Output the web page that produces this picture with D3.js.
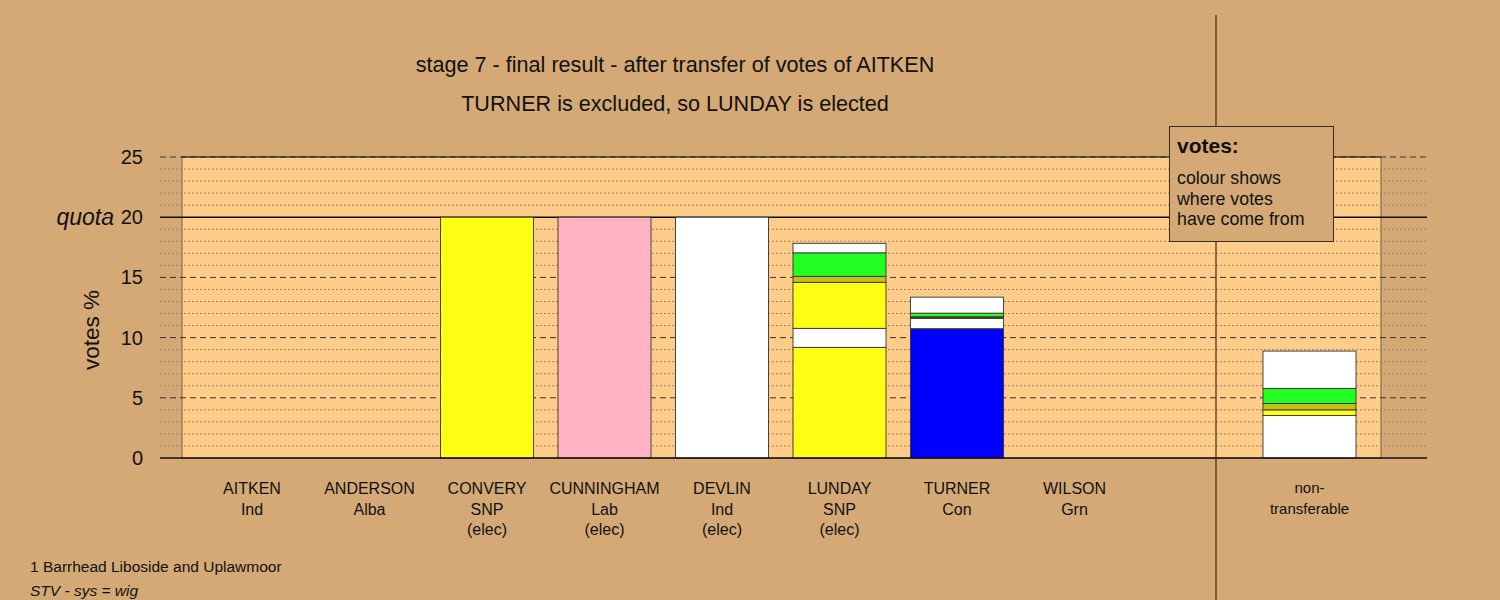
<!DOCTYPE html>
<html><head><meta charset="utf-8">
<script src="https://cdn.jsdelivr.net/npm/d3@7"></script>
<style>body{margin:0;background:#d4a976}svg{display:block}text{font-family:"Liberation Sans",Arial,sans-serif;fill:#111}</style>
</head><body><svg id="c" width="1500" height="600"></svg>
<script>
const candidates = ["AITKEN","ANDERSON","CONVERY","CUNNINGHAM","DEVLIN","LUNDAY","TURNER","WILSON","","non-transferable"];
const parties    = ["Ind","Alba","SNP","Lab","Ind","SNP","Con","Grn","",""];
const statuses   = ["","","(elec)","(elec)","(elec)","(elec)","","","",""];
const ownColours = ["#ffffff","#c4c01a","#ffff14","#ffb3c3","#ffffff","#ffff14","#0000ff","#22ff22","#ffffff","#ffffff"];
// stacked vote segments (votes %), bottom to top
const ownVotes      = [0,0,20,20,20,9.19,10.74,0,0,0];
const fromDevlin    = [0,0,0,0,0,1.58,0.86,0,0,3.53];
const fromConvery   = [0,0,0,0,0,3.82,0.08,0,0,0.47];
const fromAnderson  = [0,0,0,0,0,0.50,0.05,0,0,0.53];
const fromWilson    = [0,0,0,0,0,1.95,0.30,0,0,1.25];
const fromAitken    = [0,0,0,0,0,0.79,1.33,0,0,3.10];
const seriesColours = [null,"#ffffff","#ffff14","#c4c01a","#22ff22","#ffffff"];
const majorTicks = [0,5,10,15,20,25];
const quota = 20;
const titleLines = ["stage 7 - final result - after transfer of votes of AITKEN","TURNER is excluded, so LUNDAY is elected"];
const footLines = ["1 Barrhead Liboside and Uplawmoor","STV - sys = wig"];
const legendLines = ["colour shows","where votes","have come from"];

const svg = d3.select("#c");
const x = d3.scalePoint().domain(d3.range(candidates.length)).range([252,1309.5]);
const y = d3.scaleLinear().domain([0,25]).range([458,157]);
const barW = 93;
const gx0 = 160, gx1 = 1427;

svg.append("rect").attr("width",1500).attr("height",600).attr("fill","#d4a976");
svg.append("rect").attr("x",182).attr("y",y(25)).attr("width",1381-182).attr("height",y(0)-y(25))
  .attr("fill","#ffcc8a").attr("stroke","#8a6e4c").attr("stroke-width",1.2);

// minor grid
const minor = d3.range(1,25).filter(v=>v%5!==0);
svg.append("g").selectAll("line").data(minor).join("line")
  .attr("x1",gx0).attr("x2",gx1).attr("y1",d=>y(d)).attr("y2",d=>y(d))
  .attr("stroke","#9a8468").attr("stroke-width",1).attr("stroke-dasharray","2,2");
// major dashed
svg.append("g").selectAll("line").data([5,10,15,25]).join("line")
  .attr("x1",gx0).attr("x2",gx1).attr("y1",d=>y(d)).attr("y2",d=>y(d))
  .attr("stroke","#333").attr("stroke-width",1).attr("stroke-dasharray","6,4");
svg.append("line").attr("x1",182).attr("x2",1381).attr("y1",y(25)).attr("y2",y(25)).attr("stroke","#222").attr("stroke-width",1);
// quota
svg.append("line").attr("x1",gx0).attr("x2",gx1).attr("y1",y(quota)).attr("y2",y(quota)).attr("stroke","#111").attr("stroke-width",1.5);

// bars
const series = [ownVotes,fromDevlin,fromConvery,fromAnderson,fromWilson,fromAitken];
const segs = [];
candidates.forEach((c,i)=>{
  let base = 0;
  series.forEach((s,k)=>{
    const v = s[i];
    if(v>0){ segs.push({i,y0:base,y1:base+v,col:k===0?ownColours[i]:seriesColours[k]}); base+=v; }
  });
});
svg.append("g").selectAll("rect").data(segs).join("rect")
  .attr("x",d=>x(d.i)-barW/2).attr("width",barW)
  .attr("y",d=>y(d.y1)).attr("height",d=>y(d.y0)-y(d.y1))
  .attr("fill",d=>d.col).attr("stroke","#333").attr("stroke-width",0.9);

svg.append("line").attr("x1",gx0).attr("x2",gx1).attr("y1",y(0)).attr("y2",y(0)).attr("stroke","#111").attr("stroke-width",1.5);

// y axis labels
svg.append("g").selectAll("text").data(majorTicks).join("text")
  .attr("x",143).attr("y",d=>y(d)+7).attr("text-anchor","end").attr("font-size",20).text(d=>d);
svg.append("text").attr("x",114).attr("y",y(quota)+7.5).attr("text-anchor","end").attr("font-size",23)
  .attr("font-style","italic").text("quota");
svg.append("text").attr("transform","translate(99,330) rotate(-90)").attr("text-anchor","middle")
  .attr("font-size",22.5).text("votes %");

// x labels
const xl = svg.append("g");
candidates.forEach((c,i)=>{
  if(!c) return;
  let lines;
  if(c==="non-transferable") lines=["non-","transferable"];
  else lines=[c,parties[i],statuses[i]].filter(s=>s);
  lines.forEach((t,j)=>{
    xl.append("text").attr("x",x(i)).attr("y",(c==="non-transferable"?493:494)+j*20.5)
      .attr("text-anchor","middle").attr("font-size",c==="non-transferable"?15:16).text(t);
  });
});

// titles
titleLines.forEach((t,j)=>svg.append("text").attr("x",675).attr("y",72+j*38.5)
  .attr("text-anchor","middle").attr("font-size",21.6).text(t));

// footer
svg.append("text").attr("x",30).attr("y",572).attr("font-size",15.5).text(footLines[0]);
svg.append("text").attr("x",30).attr("y",596).attr("font-size",15.5).attr("font-style","italic").text(footLines[1]);

// divider
svg.append("line").attr("x1",1216).attr("x2",1216).attr("y1",15).attr("y2",600).attr("stroke","#3a2c1c").attr("stroke-width",1.2);

// legend
svg.append("rect").attr("x",1169.5).attr("y",126.5).attr("width",164).attr("height",115)
  .attr("fill","#d4a976").attr("stroke","#3a2c1c").attr("stroke-width",1);
svg.append("text").attr("x",1177).attr("y",153).attr("font-size",21).attr("font-weight","bold").text("votes:");
legendLines.forEach((t,j)=>svg.append("text").attr("x",1177).attr("y",184+j*20.5).attr("font-size",17.8).text(t));
</script></body></html>
